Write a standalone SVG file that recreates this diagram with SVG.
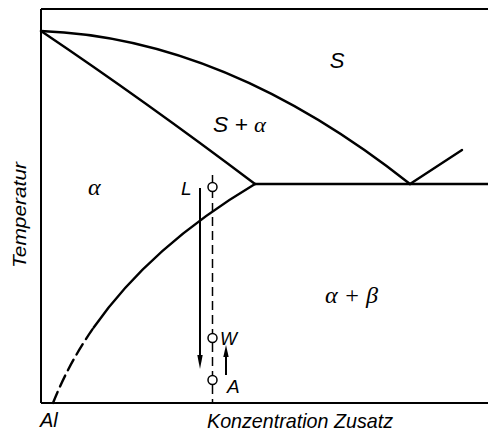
<svg xmlns="http://www.w3.org/2000/svg" width="488" height="434" viewBox="0 0 488 434">
<style>
.ln{fill:none;stroke:#000;stroke-width:2.4;stroke-linecap:round}
.ax{fill:none;stroke:#000;stroke-width:2}
.ds{fill:none;stroke:#000;stroke-width:1.5;stroke-dasharray:9 5}
.pt{fill:#fff;stroke:#000;stroke-width:1.5}
.t{font-family:"Liberation Sans",Arial,sans-serif;font-style:italic;fill:#000}
.g{font-family:"Liberation Serif","Times New Roman",serif;font-style:italic}
</style>
<rect width="488" height="434" fill="#fff"/>
<g id="axes">
<line class="ax" x1="41" y1="9" x2="41" y2="403"/>
<line class="ax" x1="41" y1="9" x2="488" y2="9" stroke-width="1.6"/>
<line class="ax" x1="41" y1="403" x2="488" y2="403"/>
</g>
<g id="curves">
<path class="ln" d="M41,31 Q225.5,37.8 410,184"/>
<path class="ln" d="M41,31 Q145,101 255,184"/>
<path class="ln" d="M255,184 L488,184"/>
<path class="ln" d="M410,184 L462,150"/>
<path class="ln" d="M53,403 Q104,274 255,184" stroke-dasharray="12 6 12 6 12 6 12 6 12 2 2000" stroke-linecap="butt"/>
</g>
<g id="path-line">
<line class="ds" x1="212.5" y1="175" x2="212.5" y2="403"/>
<circle class="pt" cx="212.5" cy="187" r="4.5"/>
<circle class="pt" cx="212.5" cy="338" r="4.5"/>
<circle class="pt" cx="212.5" cy="380" r="4.5"/>
</g>
<g id="arrows">
<line x1="200" y1="188" x2="200" y2="358" stroke="#000" stroke-width="2"/>
<polygon points="197.3,355 202.7,355 200,369" fill="#000"/>
<line x1="226" y1="375" x2="226" y2="354" stroke="#000" stroke-width="2"/>
<polygon points="223.3,357 228.7,357 226,345" fill="#000"/>
</g>
<g id="labels">
<text class="t" x="337" y="68" font-size="22" text-anchor="middle">S</text>
<text class="t" x="213" y="132" font-size="22" textLength="53" lengthAdjust="spacingAndGlyphs">S + <tspan class="g">α</tspan></text>
<text class="t g" x="88" y="195" font-size="24">α</text>
<text class="t" x="181" y="195" font-size="19">L</text>
<text class="t" x="220" y="345" font-size="18">W</text>
<text class="t" x="227" y="393" font-size="19">A</text>
<text class="t g" x="325" y="303" font-size="24" textLength="53" lengthAdjust="spacingAndGlyphs">α + β</text>
<text class="t" x="40" y="427" font-size="20">Al</text>
<text class="t" x="207" y="428" font-size="21" textLength="186" lengthAdjust="spacingAndGlyphs">Konzentration Zusatz</text>
<text class="t" font-size="18" textLength="106" lengthAdjust="spacingAndGlyphs" transform="translate(26,268) rotate(-90)">Temperatur</text>
</g>
</svg>
